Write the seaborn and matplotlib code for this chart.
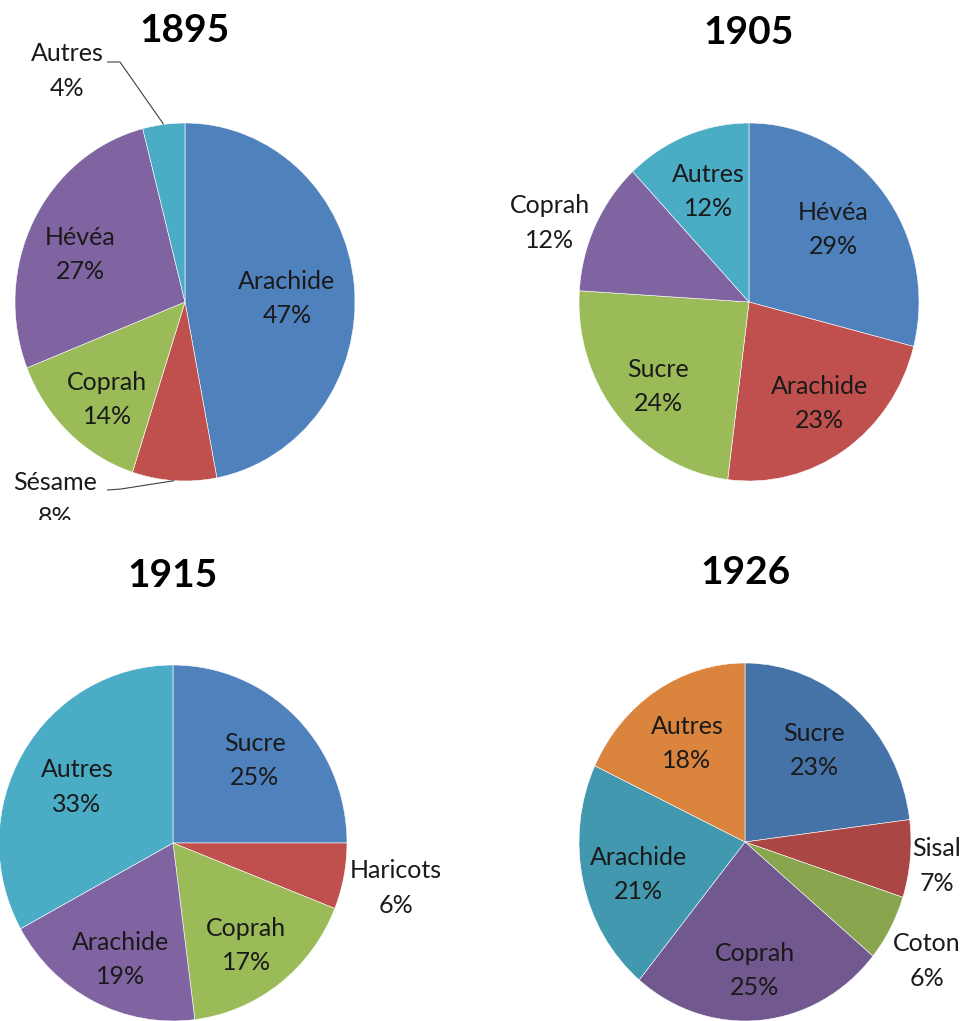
import numpy as np
import matplotlib
matplotlib.use("Agg")
import matplotlib.pyplot as plt
import seaborn as sns

# ==================================================
# DATA  (share of exports, %)
# ==================================================
years = ["1895", "1905", "1915", "1926"]

labels_1895 = ["Arachide", "Sésame", "Coprah", "Hévéa", "Autres"]
shares_1895 = [47, 8, 14, 27, 4]

labels_1905 = ["Hévéa", "Arachide", "Sucre", "Coprah", "Autres"]
shares_1905 = [29, 23, 24, 12, 12]

labels_1915 = ["Sucre", "Haricots", "Coprah", "Arachide", "Autres"]
shares_1915 = [25, 6, 17, 19, 33]

labels_1926 = ["Sucre", "Sisal", "Coton", "Coprah", "Arachide", "Autres"]
shares_1926 = [23, 7, 6, 25, 21, 18]

# ==================================================
# STYLE
# ==================================================
sns.set_theme(style="white")
plt.rcParams["font.family"] = ["Lato", "DejaVu Sans"]

office = sns.color_palette(["#4F81BD", "#C0504D", "#9BBB59", "#8064A2", "#4BACC6"])
office_dark = sns.color_palette(["#4572A7", "#AA4643", "#89A54E", "#71588F", "#4198AF", "#DB843D"])

W, H = 966, 1021
fig = plt.figure(figsize=(W / 100, H / 100), dpi=100)
fig.patch.set_facecolor("white")

TEXT = "#1a1a1a"
LABEL_SIZE = 18
LINE_SPACING = 1.58


def draw_pie(cell, center, radii, title_y, year, labels, shares, colors,
             dists, nudges, outside=None):
    """cell / center / radii in pixels (y from top).
    Inside labels sit on the slice bisector (dist, angle nudge in degrees);
    outside labels get a pixel anchor and an optional leader line."""
    x0, y0, x1, y1 = cell
    cx, cy = center
    rx, ry = radii
    ax = fig.add_axes([x0 / W, 1 - y1 / H, (x1 - x0) / W, (y1 - y0) / H])
    wedges, _ = ax.pie(shares, colors=colors, startangle=90, counterclock=False,
                       radius=1, wedgeprops=dict(edgecolor="white", linewidth=0.4))
    ax.set_aspect("auto")
    ax.set_xlim((x0 - cx) / rx, (x1 - cx) / rx)
    ax.set_ylim((cy - y1) / ry, (cy - y0) / ry)
    ax.axis("off")

    to_data = lambda px, py: ((px - cx) / rx, (cy - py) / ry)
    outside = outside or {}

    for w, lab, val, d, nd in zip(wedges, labels, shares, dists, nudges):
        mid = np.deg2rad((w.theta1 + w.theta2) / 2)
        if lab in outside:
            (tx, ty), leader = outside[lab]
            u, v = to_data(tx, ty)
            if leader:
                pts = [to_data(px, py) for px, py in leader] + [(np.cos(mid), np.sin(mid))]
                ax.plot([p[0] for p in pts], [p[1] for p in pts], color="#404040",
                        lw=0.8, solid_capstyle="butt")
        else:
            ang = mid + np.deg2rad(nd)
            u, v = d * np.cos(ang), d * np.sin(ang)
        ax.text(u, v, f"{lab}\n{val}%", ha="center", va="center",
                fontsize=LABEL_SIZE, color=TEXT, linespacing=LINE_SPACING, clip_on=True)

    fig.text(cx / W, 1 - title_y / H, year, ha="center", va="center",
             fontsize=28, fontweight="bold", color="black")


# 1895
draw_pie(cell=(0, 0, 483, 520), center=(185, 302), radii=(170, 179), title_y=31,
         year=years[0], labels=labels_1895, shares=shares_1895, colors=office,
         dists=[0.60, 0, 0.71, 0.67, 0], nudges=[-3.3, 0, 3.2, 3.5, 0],
         outside={"Autres": ((67, 71), [(107, 62), (120, 62)]),
                  "Sésame": ((55, 500), [(107, 490), (121, 489)])})

# 1905
draw_pie(cell=(483, 0, 966, 520), center=(749, 302), radii=(170, 179), title_y=32,
         year=years[1], labels=labels_1905, shares=shares_1905, colors=office,
         dists=[0.64, 0.70, 0.715, 0, 0.66], nudges=[1.7, 1.9, 2.0, 0, -0.6],
         outside={"Coprah": ((550, 223), None)})

# 1915
draw_pie(cell=(0, 540, 483, 1021), center=(173, 843), radii=(174, 178), title_y=575,
         year=years[2], labels=labels_1915, shares=shares_1915, colors=office,
         dists=[0.66, 0, 0.715, 0.72, 0.635], nudges=[-0.3, 0, -1.8, 2.1, 0.9],
         outside={"Haricots": ((396, 888), None)})

# 1926
draw_pie(cell=(483, 540, 966, 1021), center=(745, 842), radii=(166, 179), title_y=572,
         year=years[3], labels=labels_1926, shares=shares_1926, colors=office_dark,
         dists=[0.66, 0, 0, 0.718, 0.665, 0.654], nudges=[2.1, 0, 0, -0.6, 3.4, -0.1],
         outside={"Sisal": ((937, 866), None), "Coton": ((927, 961), None)})

fig.savefig("out.png", dpi=100, facecolor="white")
